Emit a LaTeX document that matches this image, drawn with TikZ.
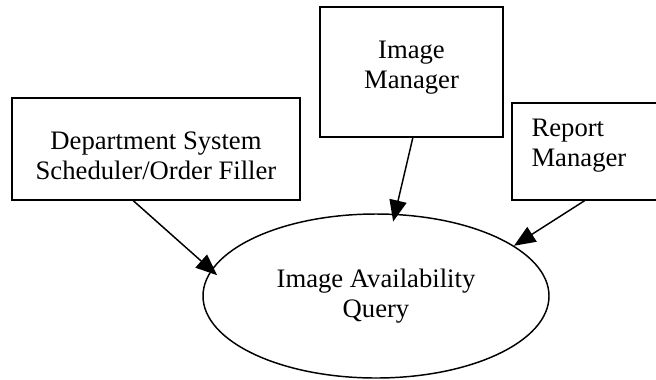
\documentclass[tikz,border=0pt]{standalone}
\usepackage{fontspec}
\setmainfont{Liberation Serif}
\usetikzlibrary{positioning,arrows.meta,shapes.geometric}

\begin{document}
\begin{tikzpicture}[
  x=0.75pt, y=-0.75pt,
  actor/.style={draw, line width=1.1pt, inner sep=0pt},
  lbl/.style={inner sep=0pt, font=\fontsize{20}{22.5}\selectfont},
  query/.style={draw, ellipse, line width=1.1pt, inner sep=0pt, minimum width=259.5pt, minimum height=123pt, align=center, font=\fontsize{20}{22.5}\selectfont},
  arr/.style={-{Triangle[length=16pt,width=13pt]}, line width=1.1pt}
]
\useasboundingbox (0,0) rectangle (656,379);
\node[actor, minimum width=216pt, minimum height=76.5pt] (dss) at (156,149) {};
\node[actor, minimum width=137.25pt, minimum height=97.5pt] (imgmgr) at (411.5,72) {};
\node[actor, minimum width=108.75pt, minimum height=72.75pt] (rptmgr) at (584.5,151.5) {};
\node[lbl, align=center, below=25.5pt of dss.north] (dsstxt) {Department System\\Scheduler/Order Filler};
\node[lbl, align=center, below=26.25pt of imgmgr.north] (imgtxt) {Image\\Manager};
\node[lbl, align=left, anchor=north west] (rpttxt) at ([xshift=15pt,yshift=-12.75pt]rptmgr.north west) {Report\\Manager};
\node[query] (iaq) at (376,296) {Image Availability\\Query};
\draw[arr, shorten >=-6pt] ([xshift=-17pt]dss.south) -- (iaq.171);
\draw[arr, shorten >=-6pt] ([xshift=1pt]imgmgr.south) -- (iaq.77);
\draw[arr] (rptmgr.south) -- (iaq.20);
\end{tikzpicture}
\end{document}
